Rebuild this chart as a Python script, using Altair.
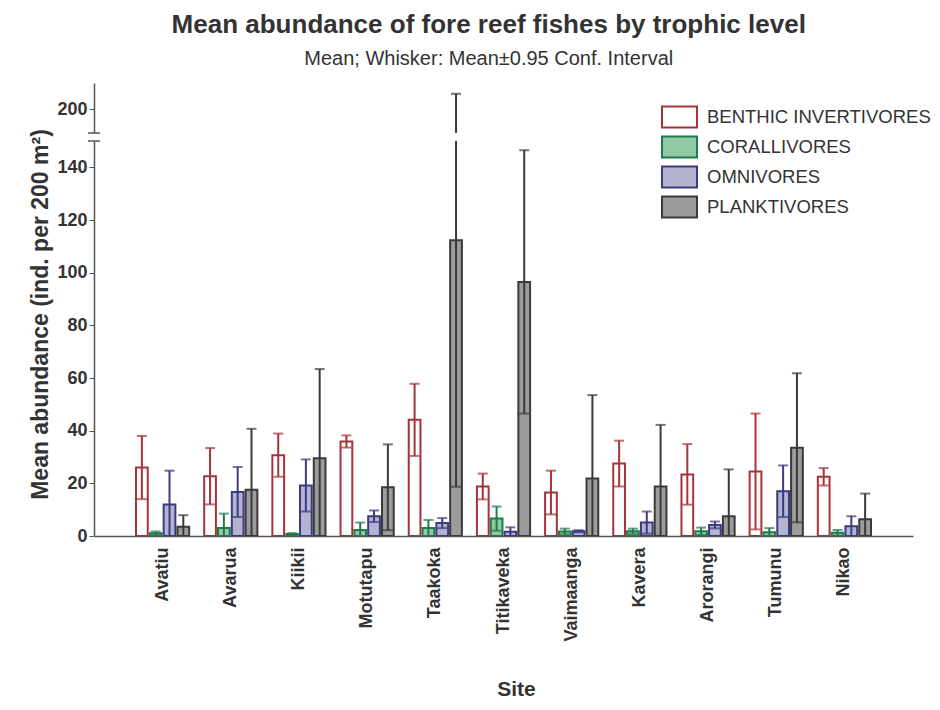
import altair as alt
import pandas as pd

sites = ["Avatiu", "Avarua", "Kiikii", "Motutapu", "Taakoka", "Titikaveka",
         "Vaimaanga", "Kavera", "Arorangi", "Tumunu", "Nikao"]
groups = ["BENTHIC INVERTIVORES", "CORALLIVORES", "OMNIVORES", "PLANKTIVORES"]

benthic_mean = [26.0, 22.7, 30.7, 35.9, 44.1, 18.8, 16.5, 27.5, 23.4, 24.5, 22.5]
benthic_ci = [12.0, 10.7, 8.2, 2.3, 13.7, 4.9, 8.3, 8.7, 11.5, 22.0, 3.3]
coral_mean = [1.0, 3.0, 0.7, 2.3, 3.0, 6.6, 1.7, 1.8, 1.8, 1.4, 1.2]
coral_ci = [0.7, 5.5, 0.4, 2.8, 3.1, 4.6, 1.1, 1.0, 1.4, 1.6, 1.1]
omni_mean = [12.0, 16.7, 19.2, 7.5, 4.9, 1.6, 1.8, 5.1, 4.2, 17.0, 3.7]
omni_ci = [12.8, 9.5, 9.9, 2.2, 1.9, 1.7, 0.4, 4.2, 1.3, 9.8, 3.8]
plank_mean = [3.5, 17.6, 29.5, 18.5, 112.3, 96.5, 21.8, 18.8, 7.5, 33.5, 6.4]
plank_ci = [4.4, 23.1, 33.9, 16.3, 93.6, 50.0, 31.7, 23.4, 17.8, 28.3, 9.7]

strokes = ["#a8323a", "#1f7a4c", "#3b3b7e", "#3a3a3a"]
fills = ["#ffffff", "#8fcaa5", "#b4b4d2", "#9c9c9c"]

rows = []
for g, means, cis in zip(groups, [benthic_mean, coral_mean, omni_mean, plank_mean],
                         [benthic_ci, coral_ci, omni_ci, plank_ci]):
    for s, m, c in zip(sites, means, cis):
        rows.append({"site": s, "group": g, "cap": g, "mean": m,
                     "lo": max(m - c, 0.0), "hi": m + c, "haslo": (m - c) > 0})
df = pd.DataFrame(rows)

FONT = "Liberation Sans"
TXT = "#333333"
AX = "#555555"

x_scale = alt.Scale(domain=sites, paddingInner=0.22, paddingOuter=0.616)
x_enc = alt.X("site:N", sort=sites, scale=x_scale,
              axis=alt.Axis(labelAngle=-90, labelFontSize=18, labelFontWeight="bold",
                            labelColor=TXT, labelPadding=11, ticks=False,
                            domainColor=AX, domainWidth=1.5,
                            title="Site", titleFontSize=21, titleFontWeight="bold",
                            titleColor=TXT, titleY=142, titleX=422))
x_enc_up = alt.X("site:N", sort=sites, scale=x_scale, axis=None)
xoff = alt.XOffset("group:N", sort=groups,
                   scale=alt.Scale(domain=groups, paddingInner=0.15))

legend = alt.Legend(title=None, orient="none", legendX=574.5, legendY=23,
                    symbolType="M-1.75,-1.05H1.75V1.05H-1.75Z", symbolSize=400,
                    symbolStrokeWidth=2, labelFontSize=18.5, labelColor=TXT,
                    labelOffset=16.5, rowPadding=0, padding=0, labelFont=FONT,
                    labelLimit=400)
fill_enc = alt.Fill("group:N", sort=groups,
                    scale=alt.Scale(domain=groups, range=fills), legend=legend)
stroke_enc = alt.Stroke("group:N", sort=groups,
                        scale=alt.Scale(domain=groups, range=strokes), legend=legend)
# whisker colour scale: data-driven domain so that it is kept apart from the legend
cap_color = alt.Color("cap:N", sort=groups,
                      scale=alt.Scale(range=strokes), legend=None)

y_lo = alt.Scale(domain=[0, 150], nice=False)
y_axis_lo = alt.Axis(values=list(range(0, 141, 20)), labelFontSize=18,
                     labelFontWeight="bold", labelColor=TXT, tickSize=5,
                     tickColor=AX, domainColor=AX, domainWidth=1.5, grid=False,
                     title="Mean abundance (ind. per 200 m²)", titleFontSize=23,
                     titleFontWeight="bold", titleColor=TXT, titleY=173)

base = alt.Chart(df)
bars = base.mark_bar(strokeWidth=2, clip=True).encode(
    x=x_enc, xOffset=xoff,
    y=alt.Y("mean:Q", scale=y_lo, axis=y_axis_lo),
    fill=fill_enc, stroke=stroke_enc)
whisk = base.mark_rule(strokeWidth=2, clip=True).encode(
    x=x_enc, xOffset=xoff, y=alt.Y("lo:Q", scale=y_lo), y2="hi:Q",
    color=cap_color)
cap_hi = base.mark_tick(thickness=2, size=10, clip=True).encode(
    x=x_enc, xOffset=xoff, y=alt.Y("hi:Q", scale=y_lo), color=cap_color)
cap_lo = base.transform_filter("datum.haslo").mark_tick(thickness=2, size=10, clip=True).encode(
    x=x_enc, xOffset=xoff, y=alt.Y("lo:Q", scale=y_lo), color=cap_color)
brk_lo = alt.Chart(pd.DataFrame({"v": [150]})).mark_rule(color=AX, strokeWidth=1.5).encode(
    y=alt.Y("v:Q", scale=y_lo), x=alt.value(-6), x2=alt.value(6))

lower = alt.layer(bars, whisk, cap_hi, cap_lo, brk_lo).properties(width=819, height=395)

y_up = alt.Scale(domain=[191, 210], nice=False)
y_axis_up = alt.Axis(values=[200], labelFontSize=18, labelFontWeight="bold",
                     labelColor=TXT, tickSize=5, tickColor=AX, domainColor=AX,
                     domainWidth=1.5, grid=False, title=None)
up_df = df[df["hi"] > 191]
whisk_up = alt.Chart(up_df).mark_rule(strokeWidth=2, clip=True, color=strokes[3]).encode(
    x=x_enc_up, xOffset=xoff, y=alt.Y("lo:Q", scale=y_up, axis=y_axis_up), y2="hi:Q")
cap_up = alt.Chart(up_df).mark_tick(thickness=2, size=10, clip=True, color=strokes[3]).encode(
    x=x_enc_up, xOffset=xoff, y=alt.Y("hi:Q", scale=y_up))
brk_up = alt.Chart(pd.DataFrame({"v": [191]})).mark_rule(color=AX, strokeWidth=1.5).encode(
    y=alt.Y("v:Q", scale=y_up), x=alt.value(-6), x2=alt.value(6))
upper = alt.layer(whisk_up, cap_up, brk_up).properties(width=819, height=50)

chart = alt.vconcat(upper, lower, spacing=8, bounds="flush").properties(
    title=alt.TitleParams(
        text="Mean abundance of fore reef fishes by trophic level",
        subtitle="Mean; Whisker: Mean±0.95 Conf. Interval",
        fontSize=26, fontWeight="bold", color=TXT, subtitleFontSize=20,
        subtitleColor=TXT, subtitlePadding=11, anchor="middle", dx=8, offset=14,
        font=FONT, subtitleFont=FONT),
    padding={"left": 21, "top": 4, "right": 0, "bottom": 0}
).resolve_scale(color="independent").configure(font=FONT).configure_view(stroke=None)

chart.save("out.html", embed_options={"renderer": "svg", "actions": False})
